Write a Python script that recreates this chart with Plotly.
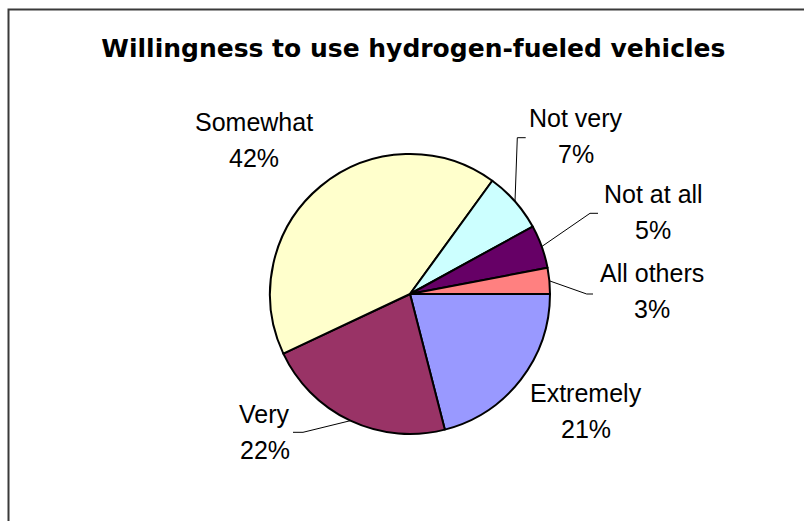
import math
import plotly.graph_objects as go

# ---- data ----
categories = ["Extremely", "Very", "Somewhat", "Not very", "Not at all", "All others"]
shares = [21, 22, 42, 7, 5, 3]
slice_colors = ["#9999FF", "#993366", "#FFFFCC", "#CCFFFF", "#660066", "#FF8080"]
title_text = "Willingness to use hydrogen-fueled vehicles"

# ---- layout constants (pixels) ----
W, H = 804, 521
CX, CY, R = 410, 294, 140  # pie centre / radius
LABEL_FONT = 25
LINE_GAP = 36
# label block centres (px, from top-left)
label_pos = {
    "Extremely": (585.8, 410.8),
    "Very": (264.5, 432.4),
    "Somewhat": (254.0, 139.5),
    "Not very": (575.7, 135.7),
    "Not at all": (653.0, 212.2),
    "All others": (651.7, 291.3),
}
# leader-line ends: (end point, elbow end)
leader_end = {
    "Not very": ((517.3, 137.7), (525.7, 137.7)),
    "Not at all": ((590.0, 213.3), (598.0, 213.3)),
    "All others": ((586.7, 294.0), (593.0, 294.0)),
    "Very": ((303.0, 432.3), (293.0, 432.3)),
}


def px(x):
    return x / W


def py(y):
    return 1 - y / H


fig = go.Figure(
    go.Pie(
        labels=categories,
        values=shares,
        sort=False,
        direction="clockwise",
        rotation=90,
        marker=dict(colors=slice_colors, line=dict(color="black", width=2)),
        textinfo="none",
        hoverinfo="label+percent",
        showlegend=False,
        domain=dict(x=[px(CX - R), px(CX + R)], y=[py(CY + R), py(CY - R)]),
    )
)

total = sum(shares)
annotations = []
shapes = []
cum = 0.0
for name, v in zip(categories, shares):
    mid = (cum + v / 2) / total * 360.0  # degrees clockwise from 3 o'clock
    cum += v
    ex = CX + R * math.cos(math.radians(mid))
    ey = CY + R * math.sin(math.radians(mid))
    lx, ly = label_pos[name]
    pct = f"{round(v / total * 100)}%"
    for txt, dy in ((name, -LINE_GAP / 2), (pct, LINE_GAP / 2)):
        annotations.append(
            dict(
                x=px(lx), y=py(ly + dy), xref="paper", yref="paper",
                text=txt, showarrow=False, xanchor="center", yanchor="middle",
                font=dict(family="Liberation Sans, Arial, sans-serif", size=LABEL_FONT, color="black"),
            )
        )
    if name in leader_end:
        (x1, y1), (x2, y2) = leader_end[name]
        shapes.append(
            dict(
                type="path", xref="paper", yref="paper",
                path=f"M {px(ex)},{py(ey)} L {px(x1)},{py(y1)} L {px(x2)},{py(y2)}",
                line=dict(color="black", width=1),
            )
        )

# outer frame
shapes.append(
    dict(type="rect", xref="paper", yref="paper",
         x0=px(8.5), x1=px(W + 10), y0=py(H + 10), y1=py(9.5),
         line=dict(color="#3a3a3a", width=2), fillcolor="rgba(0,0,0,0)")
)

fig.update_layout(
    width=W, height=H,
    margin=dict(l=0, r=0, t=0, b=0),
    paper_bgcolor="white", plot_bgcolor="white",
    title=dict(
        text=f"<b>{title_text}</b>",
        x=px(413.4), xanchor="center", xref="paper",
        y=py(48.3), yanchor="middle", yref="container",
        font=dict(family="DejaVu Sans, sans-serif", size=25, color="black"),
    ),
    annotations=annotations,
    shapes=shapes,
)

fig.write_html(
    "out.html",
    config={"displayModeBar": False},
    post_script="document.body.style.margin='0';document.body.style.overflow='hidden';",
)
